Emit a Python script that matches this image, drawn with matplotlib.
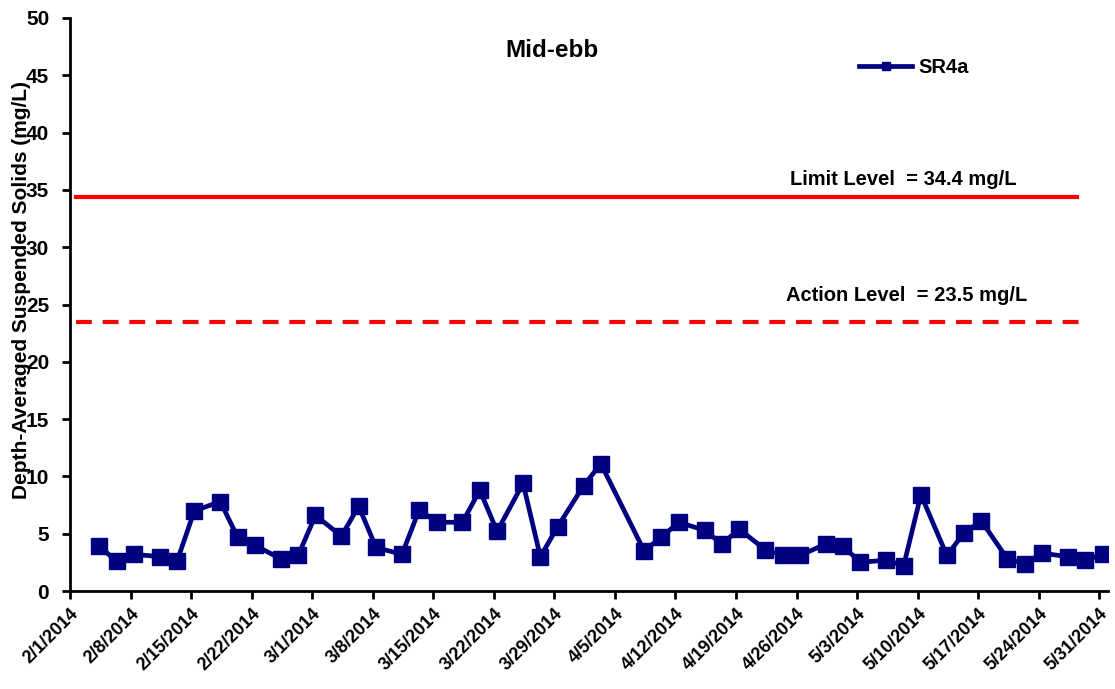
import numpy as np
import pandas as pd
import matplotlib
matplotlib.use("Agg")
import matplotlib.pyplot as plt
import matplotlib.dates as mdates

plt.rcParams['font.family'] = ['Liberation Sans', 'DejaVu Sans']
plt.rcParams['font.weight'] = 'bold'

# Sampling dates (mid-ebb) and depth-averaged suspended solids at station SR4a
sample_dates = [
    "2014-02-04", "2014-02-06", "2014-02-08", "2014-02-11", "2014-02-13",
    "2014-02-15", "2014-02-18", "2014-02-20", "2014-02-22", "2014-02-25",
    "2014-02-27", "2014-03-01", "2014-03-04", "2014-03-06", "2014-03-08",
    "2014-03-11", "2014-03-13", "2014-03-15", "2014-03-18", "2014-03-20",
    "2014-03-22", "2014-03-25", "2014-03-27", "2014-03-29", "2014-04-01",
    "2014-04-03", "2014-04-08", "2014-04-10", "2014-04-12", "2014-04-15",
    "2014-04-17", "2014-04-19", "2014-04-22", "2014-04-24", "2014-04-26",
    "2014-04-29", "2014-05-01", "2014-05-03", "2014-05-06", "2014-05-08",
    "2014-05-10", "2014-05-13", "2014-05-15", "2014-05-17", "2014-05-20",
    "2014-05-22", "2014-05-24", "2014-05-27", "2014-05-29", "2014-05-31",
]
sr4a = [
    3.9, 2.6, 3.2, 3.0, 2.6,
    7.0, 7.8, 4.7, 4.0, 2.8,
    3.1, 6.6, 4.8, 7.4, 3.8,
    3.2, 7.1, 6.0, 6.0, 8.8,
    5.2, 9.4, 3.0, 5.6, 9.2,
    11.1, 3.5, 4.7, 6.0, 5.3,
    4.1, 5.4, 3.6, 3.1, 3.1,
    4.1, 3.9, 2.5, 2.7, 2.2,
    8.4, 3.1, 5.1, 6.1, 2.8,
    2.4, 3.3, 3.0, 2.7, 3.2,
]
sample_time = pd.Timedelta(hours=9)

limit_level = 34.4
action_level = 23.5

tick_start = "2014-02-01"
tick_end = "2014-05-31"
axis_end = "2014-06-01"
y_ticks = [0, 5, 10, 15, 20, 25, 30, 35, 40, 45, 50]

navy = "#000080"
red = "#ff0000"

fig = plt.figure(figsize=(11.15, 6.89), dpi=100)
ax = fig.add_axes([0.0628, 0.1422, 0.9309, 0.8317])

t = pd.to_datetime(sample_dates) + sample_time
ax.plot(t, sr4a, color=navy, lw=3.4, marker='s', markersize=11.5,
        markerfacecolor=navy, markeredgecolor=navy, label="SR4a", zorder=3)

ax.axhline(limit_level, xmin=0.006, xmax=0.970, color=red, lw=3.0, zorder=2)
ax.axhline(action_level, xmin=0.006, xmax=0.980, color=red, lw=3.0,
           linestyle=(0, (3.8, 2.6)), zorder=2)

ax.text(0.803, 0.718, f"Limit Level  = {limit_level} mg/L", transform=ax.transAxes,
        ha='center', va='center', fontsize=14.5, fontweight='bold')
ax.text(0.806, 0.516, f"Action Level  = {action_level} mg/L", transform=ax.transAxes,
        ha='center', va='center', fontsize=14.5, fontweight='bold')
ax.text(0.464, 0.944, "Mid-ebb", transform=ax.transAxes,
        ha='center', va='center', fontsize=17.5, fontweight='bold')

leg = ax.legend(loc='center left', bbox_to_anchor=(0.743, 0.914), frameon=False,
                fontsize=14.5, handlelength=2.6, handletextpad=0.35, markerscale=0.55)

ax.set_ylim(0, 50)
ax.set_yticks(y_ticks)
ax.set_xlim(pd.Timestamp(tick_start), pd.Timestamp(axis_end))
ax.set_xticks(pd.date_range(tick_start, tick_end, freq='7D'))
ax.xaxis.set_major_formatter(
    matplotlib.ticker.FuncFormatter(
        lambda v, pos: (lambda d: f"{d.month}/{d.day}/{d.year}")(mdates.num2date(v))))

for lbl in ax.get_xticklabels():
    lbl.set_rotation(45)
    lbl.set_ha('right')
    lbl.set_rotation_mode('anchor')
    lbl.set_fontsize(13)
    lbl.set_fontweight('bold')
for lbl in ax.get_yticklabels():
    lbl.set_fontsize(15)
    lbl.set_fontweight('bold')

ax.tick_params(axis='both', direction='out', length=6, width=2, color='black')
ax.tick_params(axis='y', pad=9)
ax.tick_params(axis='x', pad=4)

ax.spines['top'].set_visible(False)
ax.spines['right'].set_visible(False)
for s in ('left', 'bottom'):
    ax.spines[s].set_linewidth(2)
    ax.spines[s].set_color('black')

ax.set_ylabel("Depth-Averaged Suspended Solids (mg/L)", fontsize=15, fontweight='bold')
ax.yaxis.set_label_coords(-0.038, 0.525)

fig.savefig("out.png", dpi=100, facecolor='white')
